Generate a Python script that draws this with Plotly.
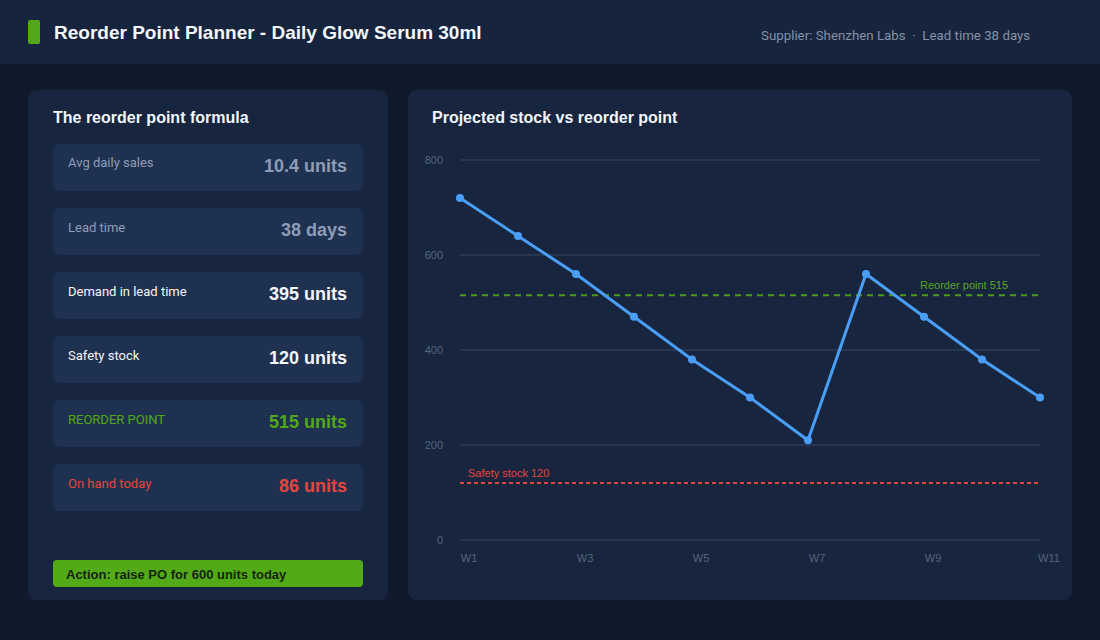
import plotly.graph_objects as go

# ---------------- data ----------------
weeks = ["W1", "W2", "W3", "W4", "W5", "W6", "W7", "W8", "W9", "W10", "W11"]
projected_stock = [720, 640, 560, 470, 380, 300, 210, 560, 470, 380, 300]
reorder_point = 515
safety_stock = 120
y_ticks = [0, 200, 400, 600, 800]
x_tick_labels = ["W1", "W3", "W5", "W7", "W9", "W11"]

metric_labels = ["Avg daily sales", "Lead time", "Demand in lead time",
                 "Safety stock", "REORDER POINT", "On hand today"]
metric_values = ["10.4 units", "38 days", "395 units", "120 units", "515 units", "86 units"]

title = "Reorder Point Planner - Daily Glow Serum 30ml"
subtitle = "Supplier: Shenzhen Labs  ·  Lead time 38 days"
left_title = "The reorder point formula"
right_title = "Projected stock vs reorder point"
action_text = "Action: raise PO for 600 units today"

# ---------------- style ----------------
W, H = 1100, 640
BG = "#101a2c"
HEADER = "#17243d"
PANEL = "#17253e"
ROW = "#1f3150"
GREEN = "#52a818"
RED = "#e5453d"
BLUE = "#4a9ef8"
GREY = "#8d9db8"
WHITE = "#f3f6fb"
GRID = "#26364f"
TICK = "#56647d"
BOLD = "Liberation Sans, Arial, sans-serif"
REG = "Roboto, Liberation Sans, sans-serif"

row_colors = [(GREY, GREY), (GREY, GREY), (WHITE, WHITE), (WHITE, WHITE),
              (GREEN, GREEN), (RED, RED)]


def px(x):
    return x / W


def py(y):
    return 1 - y / H


def rrect(x0, y0, x1, y1, r, color):
    rx, ry = r, r
    path = (f"M {px(x0 + rx)},{py(y0)} L {px(x1 - rx)},{py(y0)} "
            f"Q {px(x1)},{py(y0)} {px(x1)},{py(y0 + ry)} "
            f"L {px(x1)},{py(y1 - ry)} Q {px(x1)},{py(y1)} {px(x1 - rx)},{py(y1)} "
            f"L {px(x0 + rx)},{py(y1)} Q {px(x0)},{py(y1)} {px(x0)},{py(y1 - ry)} "
            f"L {px(x0)},{py(y0 + ry)} Q {px(x0)},{py(y0)} {px(x0 + rx)},{py(y0)} Z")
    return dict(type="path", xref="paper", yref="paper", path=path,
                fillcolor=color, line=dict(width=0), layer="below")


def label(text, x, y, size, color, family, xanchor="left"):
    # annotation boxes carry ~2px of padding; compensate so text edge lands at x
    shift = -2 if xanchor == "left" else 2
    return dict(text=text, x=px(x + shift), y=py(y), xref="paper", yref="paper",
                xanchor=xanchor, yanchor="middle", showarrow=False,
                font=dict(family=family, size=size, color=color))


shapes = []
annotations = []

# header band
shapes.append(dict(type="rect", xref="paper", yref="paper", x0=0, x1=1, y0=py(64), y1=1,
                   fillcolor=HEADER, line=dict(width=0), layer="below"))
shapes.append(rrect(28, 20, 40, 44, 2, GREEN))
annotations.append(label(f"<b>{title}</b>", 54, 33, 19, WHITE, BOLD))
annotations.append(label(subtitle, 1030, 35, 13.3, "#8592a8", REG, xanchor="right"))

# panels
shapes.append(rrect(28, 90, 388, 600, 10, PANEL))
shapes.append(rrect(408, 90, 1072, 600, 10, PANEL))

annotations.append(label(f"<b>{left_title}</b>", 53, 118, 16, WHITE, BOLD))
annotations.append(label(f"<b>{right_title}</b>", 432, 118, 16, WHITE, BOLD))

# metric rows
for i, (lab, val) in enumerate(zip(metric_labels, metric_values)):
    top = 144 + i * 64
    shapes.append(rrect(53, top, 363, top + 47, 7, ROW))
    lc, vc = row_colors[i]
    annotations.append(label(lab, 68, top + 19, 13, lc, REG))
    annotations.append(label(f"<b>{val}</b>", 347, top + 22, 18, vc, BOLD, xanchor="right"))

# action bar
shapes.append(rrect(53, 560, 363, 587, 4, "#52ab16"))
annotations.append(label(f"<b>{action_text}</b>", 66, 574, 13, "#16240f", BOLD))

# reference line labels
annotations.append(dict(text=f"Reorder point {reorder_point}", x=(1010 - 460) / 580, y=reorder_point,
                        xref="x domain", yref="y", xanchor="right", yanchor="middle", yshift=10,
                        showarrow=False, font=dict(family=BOLD, size=11, color="#58a51f")))
annotations.append(dict(text=f"Safety stock {safety_stock}", x=6 / 580, y=safety_stock,
                        xref="x domain", yref="y", xanchor="left", yanchor="middle", yshift=10,
                        showarrow=False, font=dict(family=BOLD, size=11, color=RED)))

fig = go.Figure()
fig.add_trace(go.Scatter(x=[weeks[0], weeks[-1]], y=[reorder_point] * 2, mode="lines",
                         line=dict(color="#4f9a1c", width=2, dash="6px,5px"), hoverinfo="skip"))
fig.add_trace(go.Scatter(x=[weeks[0], weeks[-1]], y=[safety_stock] * 2, mode="lines",
                         line=dict(color=RED, width=2, dash="4px,3px"), hoverinfo="skip"))
fig.add_trace(go.Scatter(x=weeks, y=projected_stock, mode="lines+markers", cliponaxis=False,
                         line=dict(color=BLUE, width=3), marker=dict(size=8, color=BLUE)))

# y scale: 0.475 px per unit; pad range so the edge gridlines (0 and 800) are drawn
ypad = 8
ypad_px = ypad * 0.475
fig.update_layout(
    width=W, height=H, margin=dict(l=0, r=0, t=0, b=0, pad=0, autoexpand=False),
    paper_bgcolor=BG, plot_bgcolor="rgba(0,0,0,0)",
    showlegend=False, shapes=shapes, annotations=annotations,
    xaxis=dict(domain=[px(460), px(1040)], type="category", categoryarray=weeks,
               range=[0, 10], tickvals=x_tick_labels, ticktext=x_tick_labels,
               showgrid=False, zeroline=False, showline=False, ticks="", automargin=False,
               tickfont=dict(family=BOLD, size=11, color=TICK), ticklabelshift=9,
               ticklabelstandoff=int(round(10 - ypad_px)), fixedrange=True),
    yaxis=dict(domain=[py(540 + ypad_px), py(160 - ypad_px)], range=[-ypad, 800 + ypad],
               tickvals=y_ticks,
               showgrid=True, gridcolor=GRID, gridwidth=2, zeroline=False, showline=False,
               ticks="", automargin=False, tickfont=dict(family=BOLD, size=11, color=TICK),
               ticklabelstandoff=16, fixedrange=True),
)

fig.write_html("out.html", config={"displayModeBar": False},
               post_script="document.body.style.margin='0';document.body.style.overflow='hidden';")
